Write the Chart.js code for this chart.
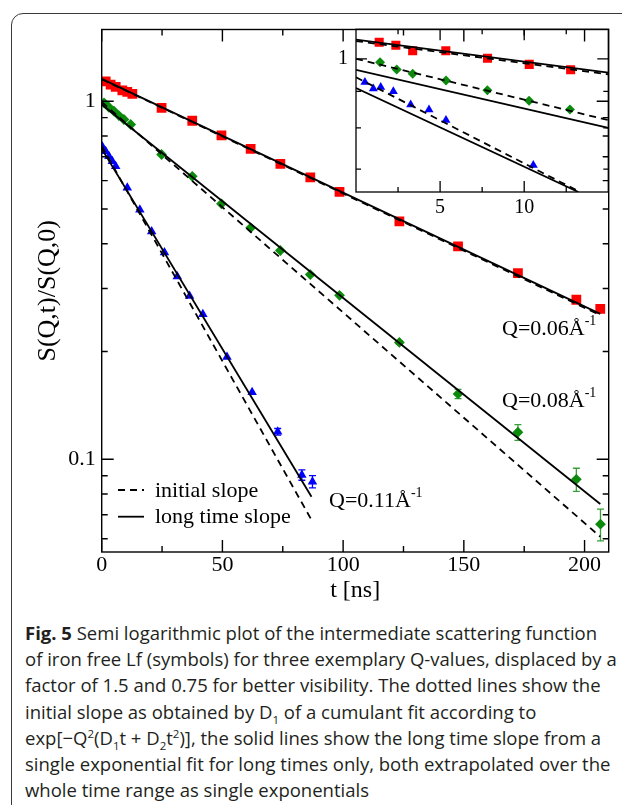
<!DOCTYPE html>
<html><head><meta charset="utf-8">
<script src="https://cdn.jsdelivr.net/npm/chart.js@4.4.1/dist/chart.umd.min.js"></script>
<style>
html,body{margin:0;padding:0;background:#fff;width:622px;height:805px;overflow:hidden;position:relative;}
#frame{position:absolute;left:11px;top:13px;width:700px;height:900px;border:1.5px solid #3a3a3a;border-top-left-radius:12px;box-sizing:border-box;}
#main{position:absolute;left:0;top:0;}
#inset{position:absolute;left:320px;top:0;}
.lbl{position:absolute;font-family:"Liberation Serif",serif;font-size:22px;line-height:22px;color:#000;white-space:nowrap;}
.lbl .sp{font-size:14px;position:relative;top:-10px;}
.leg{position:absolute;left:116px;}
#caption{position:absolute;left:25px;top:620px;font-family:"Open Sans",sans-serif;font-size:18.5px;line-height:26.2px;color:#231f20;white-space:nowrap;}
#caption sub,#caption sup{font-size:0.62em;line-height:0;}
</style></head>
<body>
<div id="frame"></div>
<canvas id="main" width="622" height="610"></canvas>
<canvas id="inset" width="302" height="230"></canvas>
<div class="lbl" style="left:502px;top:317px">Q=0.06Å<span class="sp">-1</span></div>
<div class="lbl" style="left:502px;top:389px">Q=0.08Å<span class="sp">-1</span></div>
<div class="lbl" style="left:329px;top:489px">Q=0.11Å<span class="sp">-1</span></div>
<svg class="leg" style="top:480px" width="30" height="46"><line x1="2" y1="10" x2="28" y2="10" stroke="#000" stroke-width="1.8" stroke-dasharray="7,5"/><line x1="2" y1="36.7" x2="28" y2="36.7" stroke="#000" stroke-width="1.8"/></svg>
<div class="lbl" style="left:155px;top:479px">initial slope</div>
<div class="lbl" style="left:155px;top:505px">long time slope</div>
<div id="caption"><b>Fig. 5</b> Semi logarithmic plot of the intermediate scattering function<br>of iron free Lf (symbols) for three exemplary Q-values, displaced by a<br>factor of 1.5 and 0.75 for better visibility. The dotted lines show the<br>initial slope as obtained by D<sub>1</sub> of a cumulant fit according to<br>exp[−Q<sup>2</sup>(D<sub>1</sub>t + D<sub>2</sub>t<sup>2</sup>)], the solid lines show the long time slope from a<br>single exponential fit for long times only, both extrapolated over the<br>whole time range as single exponentials</div>
<script>
// ---------------- main plot data ----------------
const redT   = [1.65, 3.7, 5.8, 8.55, 10.6, 12.7, 24.8, 37.5, 49.6, 61.7, 74.0, 86.4, 98.5, 123.3, 147.6, 172.4, 196.6, 206.5];
const redV   = [1.137, 1.113, 1.097, 1.073, 1.062, 1.049, 0.958, 0.882, 0.803, 0.736, 0.668, 0.613, 0.558, 0.462, 0.393, 0.331, 0.279, 0.263];
const greenT = [0.95, 3.0, 5.1, 7.1, 9.2, 12.0, 24.8, 37.5, 49.6, 61.7, 74.0, 86.4, 98.5, 123.3, 147.6, 172.4, 196.6, 206.6];
const greenV = [0.990, 0.962, 0.938, 0.912, 0.889, 0.861, 0.710, 0.617, 0.517, 0.443, 0.383, 0.328, 0.287, 0.212, 0.1523, 0.119, 0.0879, 0.0659];
const greenErr = [0, 0, 0, 0, 0, 0, 0, 0, 0, 0, 0, 0, 0, 0.0025, 0.0045, 0.006, 0.0065, 0.0067];
const blueT  = [0.3, 1.65, 3.0, 4.4, 5.8, 10.6, 15.8, 20.7, 26.0, 31.3, 36.4, 41.9, 51.9, 62.3, 72.9, 82.9, 87.3];
const blueV  = [0.746, 0.725, 0.702, 0.680, 0.658, 0.573, 0.498, 0.433, 0.378, 0.324, 0.286, 0.254, 0.193, 0.154, 0.1194, 0.0904, 0.0866];
const blueErr = [0, 0, 0, 0, 0, 0, 0, 0, 0, 0, 0, 0, 0, 0, 0.0025, 0.003, 0.0034];
// fitted lines (end points)
const fitT_RG = [0, 206.5];
const redSolid = [1.155, 0.2547];
const redDashed = [1.152, 0.2525];
const greenSolid = [0.979, 0.075];
const greenDashed = [0.995, 0.0608];
const fitT_B = [0, 86.9];
const blueSolid = [0.737, 0.0786];
const blueDashed = [0.75, 0.0677];
// axes
const mainXTicks = [0, 50, 100, 150, 200];
const mainXTickLabels = ['0', '50', '100', '150', '200'];
const mainXMinor = [25, 75, 125, 175];
const mainYTicks = [0.1, 1];
const mainYTickLabels = ['0.1', '1'];
const mainYMinor = [0.06, 0.07, 0.08, 0.09, 0.2, 0.3, 0.4, 0.5, 0.6, 0.7, 0.8, 0.9];

// ---------------- inset data ----------------
const insRedT = [1.38, 2.37, 3.37, 5.34, 7.82, 10.3, 12.76];
const insRedV = [1.055, 1.045, 1.026, 1.026, 1.002, 0.982, 0.965];
const insGreenT = [1.43, 2.42, 3.37, 5.35, 7.81, 10.29, 12.72];
const insGreenV = [0.989, 0.966, 0.953, 0.932, 0.903, 0.873, 0.849];
const insBlueT = [0.53, 1.03, 1.47, 2.22, 3.25, 4.34, 5.35, 10.54];
const insBlueV = [0.927, 0.908, 0.912, 0.900, 0.862, 0.848, 0.820, 0.709];
const insFitT = [0, 15];
const insRedSolid = [1.064, 0.956];
const insRedDashed = [1.059, 0.951];
const insGreenDashed = [1.0, 0.820];
const insGreenSolid = [0.965, 0.800];
const insBlueDashedT = [0, 13.32];
const insBlueDashed = [0.942, 0.65];
const insBlueSolidT = [0, 13.22];
const insBlueSolid = [0.910, 0.65];
const insXTicks = [5, 10];
const insXTickLabels = ['5', '10'];
const insXMinor = [2.5, 7.5, 12.5];
const insYTicks = [1];
const insYTickLabels = ['1'];
const insYMinor = [0.7, 0.8, 0.9];

// ---------------- helpers ----------------
const pts = (t, v) => t.map((x, i) => ({x: x, y: v[i]}));
const RED = '#ff0000', GREEN = '#0c8a0c', BLUE = '#0000ff';
const SERIF = '"Liberation Serif", "Times New Roman", serif';

function lineDs(t, v, dashed) {
  return {type: 'line', data: pts(t, v), borderColor: '#000', borderWidth: 1.8,
          borderDash: dashed ? [7, 5] : [], pointRadius: 0, fill: false, tension: 0};
}
function markDs(t, v, style, color, r, errs, errColor) {
  return {type: 'scatter', data: pts(t, v), pointStyle: style, pointRadius: r,
          backgroundColor: color, borderColor: color, borderWidth: 0, showLine: false,
          errs: errs || null, errColor: errColor || color};
}

function axisDeco(cfg) {
  return {
    id: 'axisDeco',
    afterDraw(chart) {
      const {ctx, chartArea: a, scales: {x, y}} = chart;
      ctx.save();
      ctx.strokeStyle = '#000';
      ctx.lineWidth = cfg.lw;
      ctx.beginPath();
      const tx = (vals, len) => vals.forEach(v => {
        const p = x.getPixelForValue(v);
        ctx.moveTo(p, a.bottom); ctx.lineTo(p, a.bottom - len);
        ctx.moveTo(p, a.top); ctx.lineTo(p, a.top + len);
      });
      const ty = (vals, len) => vals.forEach(v => {
        const p = y.getPixelForValue(v);
        ctx.moveTo(a.left, p); ctx.lineTo(a.left + len, p);
        ctx.moveTo(a.right, p); ctx.lineTo(a.right - len, p);
      });
      tx(cfg.xMajor, cfg.major); tx(cfg.xMinor, cfg.minor);
      ty(cfg.yMajor, cfg.major); ty(cfg.yMinor, cfg.minor);
      ctx.stroke();
      ctx.strokeRect(a.left, a.top, a.right - a.left, a.bottom - a.top);
      ctx.restore();
    }
  };
}
const errorBars = {
  id: 'errorBars',
  beforeDatasetsDraw(chart) {
    const {ctx, scales: {y}} = chart;
    chart.data.datasets.forEach((ds, i) => {
      if (!ds.errs) return;
      const meta = chart.getDatasetMeta(i);
      ctx.save();
      ctx.strokeStyle = ds.errColor; ctx.lineWidth = 1.3;
      ctx.beginPath();
      ds.data.forEach((p, j) => {
        const e = ds.errs[j];
        if (!e) return;
        const px = meta.data[j].x;
        const y1 = y.getPixelForValue(p.y + e), y2 = y.getPixelForValue(p.y - e);
        ctx.moveTo(px, y1); ctx.lineTo(px, y2);
        ctx.moveTo(px - 3.5, y1); ctx.lineTo(px + 3.5, y1);
        ctx.moveTo(px - 3.5, y2); ctx.lineTo(px + 3.5, y2);
      });
      ctx.stroke();
      ctx.restore();
    });
  }
};

// ---------------- main chart ----------------
new Chart(document.getElementById('main'), {
  type: 'scatter',
  data: {datasets: [
    lineDs(fitT_RG, redSolid, false), lineDs(fitT_RG, redDashed, true),
    lineDs(fitT_RG, greenSolid, false), lineDs(fitT_RG, greenDashed, true),
    lineDs(fitT_B, blueSolid, false), lineDs(fitT_B, blueDashed, true),
    markDs(redT, redV, 'rect', RED, 6.9),
    markDs(greenT, greenV, 'rectRot', GREEN, 5.4, greenErr, '#3a9e3a'),
    markDs(blueT, blueV, 'triangle', BLUE, 5.5, blueErr, BLUE)
  ]},
  options: {
    responsive: false, animation: false, devicePixelRatio: 1,
    layout: {padding: {top: 29.5, right: 13.3, left: 0, bottom: 0}},
    plugins: {legend: {display: false}, tooltip: {enabled: false}},
    scales: {
      x: {type: 'linear', min: 0, max: 210,
          afterFit(s) { s.height = 58; },
          afterBuildTicks(s) { s.ticks = mainXTicks.map(v => ({value: v})); },
          ticks: {callback: (v) => mainXTickLabels[mainXTicks.indexOf(v)], autoSkip: false, maxRotation: 0,
                  font: {family: SERIF, size: 22}, color: '#000', padding: 0},
          grid: {display: false, drawTicks: false}, border: {display: false},
          title: {display: true, text: 't [ns]', font: {family: SERIF, size: 24}, color: '#000', padding: {top: 0, bottom: 4.6}}},
      y: {type: 'logarithmic', min: 0.0551, max: 1.586,
          afterFit(s) { s.width = 101.7; },
          afterBuildTicks(s) { s.ticks = mainYTicks.map(v => ({value: v})); },
          ticks: {callback: (v) => mainYTickLabels[mainYTicks.indexOf(v)], autoSkip: false,
                  font: {family: SERIF, size: 22}, color: '#000', padding: 6},
          grid: {display: false, drawTicks: false}, border: {display: false},
          title: {display: true, text: 'S(Q,t)/S(Q,0)', font: {family: SERIF, size: 26}, color: '#000', padding: {top: 33, bottom: 0}}}
    }
  },
  plugins: [axisDeco({xMajor: mainXTicks, xMinor: mainXMinor, yMajor: mainYTicks, yMinor: mainYMinor, major: 12, minor: 6, lw: 1.4}), errorBars]
});

// ---------------- inset chart ----------------
new Chart(document.getElementById('inset'), {
  type: 'scatter',
  data: {datasets: [
    lineDs(insFitT, insRedSolid, false), lineDs(insFitT, insRedDashed, true),
    lineDs(insFitT, insGreenSolid, false), lineDs(insFitT, insGreenDashed, true),
    lineDs(insBlueSolidT, insBlueSolid, false), lineDs(insBlueDashedT, insBlueDashed, true),
    markDs(insRedT, insRedV, 'rect', RED, 6.4),
    markDs(insGreenT, insGreenV, 'rectRot', GREEN, 5),
    markDs(insBlueT, insBlueV, 'triangle', BLUE, 5.2)
  ]},
  options: {
    responsive: false, animation: false, devicePixelRatio: 1,
    layout: {padding: {top: 29.3, right: 13.7, left: 0, bottom: 0}},
    plugins: {legend: {display: false}, tooltip: {enabled: false}},
    scales: {
      x: {type: 'linear', min: 0, max: 15,
          afterFit(s) { s.height = 38; },
          afterBuildTicks(s) { s.ticks = insXTicks.map(v => ({value: v})); },
          ticks: {callback: (v) => insXTickLabels[insXTicks.indexOf(v)], autoSkip: false, maxRotation: 0,
                  font: {family: SERIF, size: 20}, color: '#000', padding: 4},
          grid: {display: false, drawTicks: false}, border: {display: false}},
      y: {type: 'logarithmic', min: 0.65, max: 1.1,
          afterFit(s) { s.width = 36; },
          afterBuildTicks(s) { s.ticks = insYTicks.map(v => ({value: v})); },
          ticks: {callback: (v) => insYTickLabels[insYTicks.indexOf(v)], autoSkip: false,
                  font: {family: SERIF, size: 20}, color: '#000', padding: 8},
          grid: {display: false, drawTicks: false}, border: {display: false}}
    }
  },
  plugins: [axisDeco({xMajor: insXTicks, xMinor: insXMinor, yMajor: insYTicks, yMinor: insYMinor, major: 11, minor: 5, lw: 1.3})]
});
</script>
</body></html>
